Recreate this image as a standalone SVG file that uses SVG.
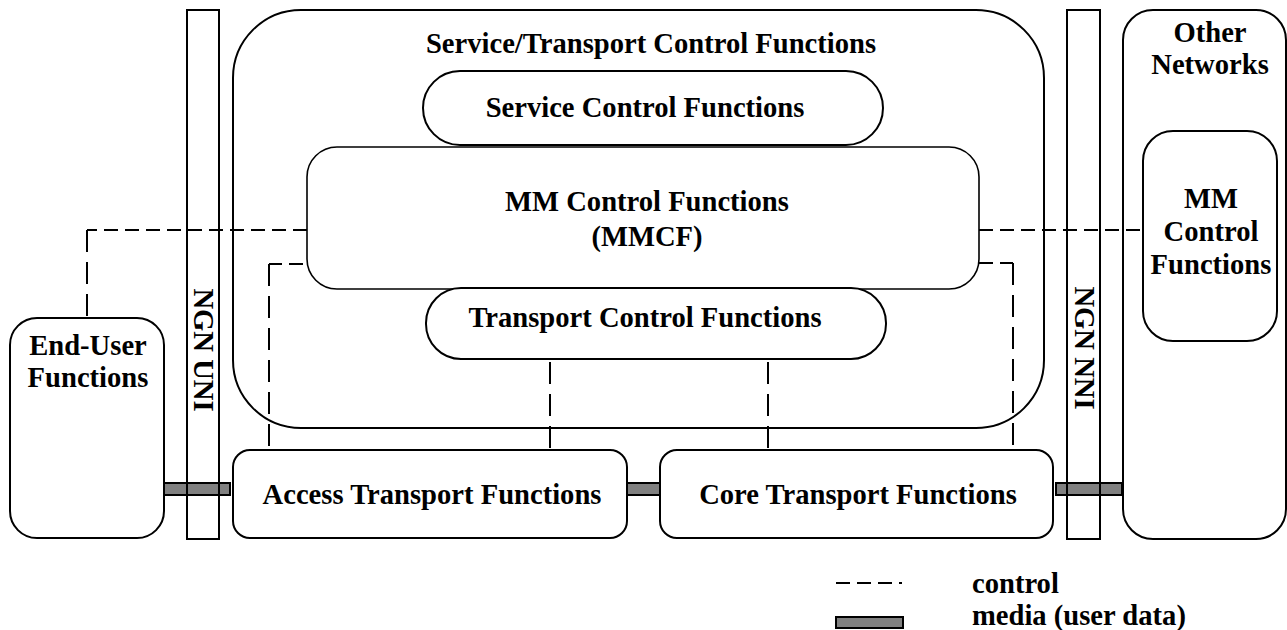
<svg xmlns="http://www.w3.org/2000/svg" width="1287" height="630" viewBox="0 0 1287 630">
<style>
  .box { fill: none; stroke: #000; stroke-width: 2; }
  .wbox { fill: #fff; stroke: #000; stroke-width: 2; }
  .thin { fill: none; stroke: #000; stroke-width: 1.6; }
  .t { font-family: "Liberation Serif", "Times New Roman", serif; font-weight: bold; font-size: 28.6px; fill: #000; }
  .c { text-anchor: middle; }
  .dh { fill: none; stroke: #000; stroke-width: 2; stroke-dasharray: 14 7; }
  .dv { fill: none; stroke: #000; stroke-width: 2; stroke-dasharray: 22 10; }
  .media { fill: #808080; stroke: #000; stroke-width: 2; }
</style>
<rect width="1287" height="630" fill="#fff"/>

<g id="stcf">
  <rect class="box" x="233" y="10" width="811" height="418" rx="68" ry="68"/>
  <text class="t c" x="651" y="53">Service/Transport Control Functions</text>
</g>
<g id="mmcf">
  <rect class="thin" x="307" y="147" width="672" height="142" rx="30" ry="30"/>
  <text class="t c" x="647" y="211">MM Control Functions</text>
  <text class="t c" x="647" y="246">(MMCF)</text>
</g>
<g id="scf">
  <rect class="wbox" x="423" y="71" width="460" height="74" rx="37" ry="37"/>
  <text class="t c" x="645" y="117">Service Control Functions</text>
</g>
<g id="tcf">
  <rect class="wbox" x="426" y="288" width="460" height="71" rx="35" ry="35"/>
  <text class="t c" x="645" y="327">Transport Control Functions</text>
</g>
<g id="endUser">
  <rect class="box" x="10" y="318" width="154" height="220" rx="27" ry="27"/>
  <text class="t c" x="88" y="355">End-User</text>
  <text class="t c" x="88" y="387">Functions</text>
</g>
<g id="access">
  <rect class="box" x="233" y="450" width="394" height="88" rx="17" ry="17"/>
  <text class="t c" x="432" y="504">Access Transport Functions</text>
</g>
<g id="core">
  <rect class="box" x="660" y="450" width="393" height="88" rx="17" ry="17"/>
  <text class="t c" x="858" y="504">Core Transport Functions</text>
</g>
<g id="otherNetworks">
  <rect class="box" x="1123" y="10" width="163" height="529" rx="30" ry="30"/>
  <text class="t c" x="1210" y="42">Other</text>
  <text class="t c" x="1210" y="74">Networks</text>
</g>
<g id="otherMMCF">
  <rect class="box" x="1143" y="131" width="134" height="210" rx="30" ry="30"/>
  <text class="t c" x="1211" y="208">MM</text>
  <text class="t c" x="1211" y="241">Control</text>
  <text class="t c" x="1211" y="274">Functions</text>
</g>

<g id="connectors">
  <path class="dh" d="M307,230 H87"/>
  <path class="dv" d="M87,230 V318"/>
  <path class="dh" d="M303,264 H269"/>
  <path class="dv" d="M269,264 V450"/>
  <path class="dv" d="M550,362 V450"/>
  <path class="dv" d="M768,362 V450"/>
  <path class="dh" d="M979,230 H1143"/>
  <path class="dh" d="M979,263 H1013"/>
  <path class="dv" d="M1013,263 V450"/>
  <rect class="media" x="164" y="483" width="66" height="12"/>
  <rect class="media" x="627" y="483" width="33" height="12"/>
  <rect class="media" x="1056" y="483" width="66" height="12"/>
</g>

<g id="uni">
  <rect class="box" x="187" y="10" width="32" height="529"/>
  <text class="t c" transform="translate(194,350) rotate(90)">NGN UNI</text>
</g>
<g id="nni">
  <rect class="box" x="1067" y="10" width="33" height="529"/>
  <text class="t c" transform="translate(1075,348) rotate(90)">NGN NNI</text>
</g>

<g id="legend">
  <path class="dh" d="M836,583 H902"/>
  <text class="t" x="972" y="593">control</text>
  <rect class="media" x="836" y="617" width="67" height="11"/>
  <text class="t" x="972" y="625">media (user data)</text>
</g>
</svg>
